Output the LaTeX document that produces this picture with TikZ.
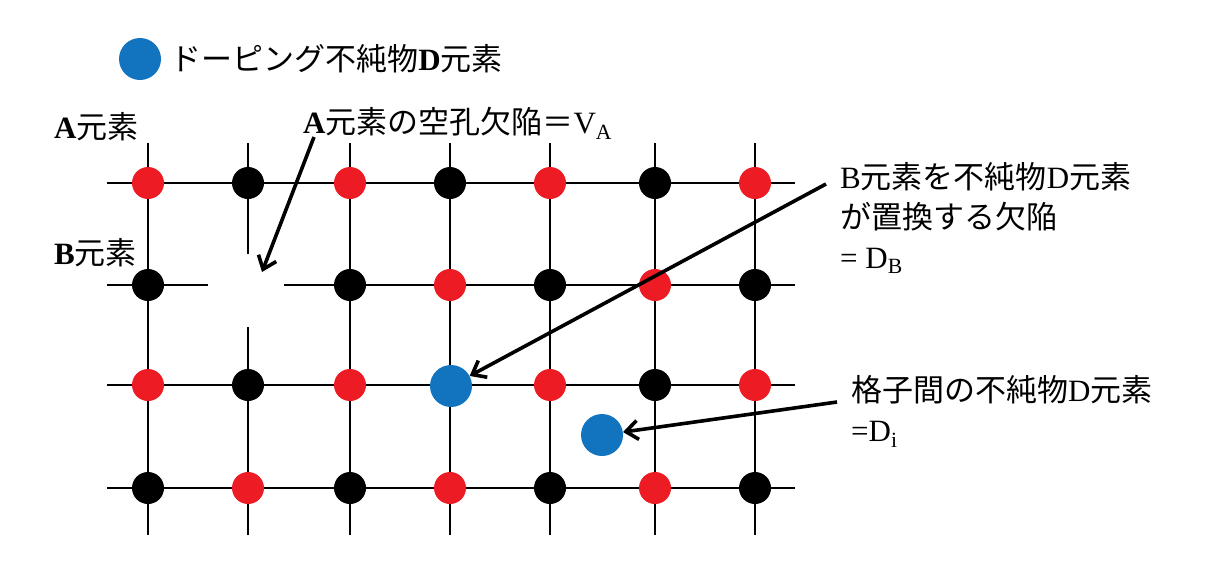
\documentclass[tikz,border=0pt]{standalone}
\usepackage{fontspec}
\setmainfont{Noto Sans CJK JP}
\newfontfamily\lat{Liberation Serif}
\usetikzlibrary{positioning,arrows.meta}
\definecolor{atomred}{RGB}{237,28,36}
\definecolor{dopeblue}{RGB}{18,115,190}
\tikzset{
  atom/.style={circle,inner sep=0pt,minimum size=32pt},
  dopant/.style={circle,inner sep=0pt,minimum size=42pt,fill=dopeblue},
  lattice/.style={line width=1.8pt},
  pointer/.style={line width=3.6pt,-{Straight Barb[length=12pt,width=19pt]}},
  lbl/.style={inner sep=0pt,font=\fontsize{31}{40}\selectfont,align=left}
}
\begin{document}
\begin{tikzpicture}[x=1pt,y=-1pt]
\useasboundingbox (0,0) rectangle (1206,560);

% lattice lines
\foreach \y in {183,385,488}
  \draw[lattice] (107,\y) -- (795,\y);
\draw[lattice] (107,285) -- (208,285);
\draw[lattice] (284,285) -- (795,285);
\foreach \x in {148,350,450,550,655,755}
  \draw[lattice] (\x,143) -- (\x,535);
\draw[lattice] (248,143) -- (248,254);
\draw[lattice] (248,327) -- (248,535);

% atoms
\foreach \r/\y in {1/183,2/285,3/385,4/488}
  \foreach \c/\x in {1/148,2/248,3/350,4/450,5/550,6/655,7/755} {
    \pgfmathtruncatemacro{\k}{mod(\r+\c,2)}
    \ifnum\k=0 \def\atomcol{atomred}\else\def\atomcol{black}\fi
    \ifnum\r\c=22 \else\ifnum\r\c=34 \else
      \node[atom,fill=\atomcol] (a\r\c) at (\x,\y) {};
    \fi\fi
  }

% defects
\coordinate (vac) at (262,272);
\node[dopant] (dsub) at (451,386) {};
\node[dopant] (dint) at (602,435) {};

% legend
\node[dopant] (legend) at (140,59) {};
\node[lbl,right=9pt of legend] (legendtxt) {ドーピング不純物{\lat\bfseries D}元素};

% labels
\node[lbl,anchor=west] (rowA) at (54,127) {{\lat\bfseries A}元素};
\node[lbl,anchor=west] (rowB) at (54,253) {{\lat\bfseries B}元素};
\node[lbl,anchor=west] (lblV) at (303,123) {{\lat\bfseries A}元素の空孔欠陥＝{\lat V\textsubscript{A}}};
\node[lbl,anchor=north west] (lblDB) at (840,162) {{\lat B}元素を不純物{\lat D}元素\\が置換する欠陥\\{\lat = D\textsubscript{B}}};
\node[lbl,anchor=north west] (lblDi) at (851,375) {格子間の不純物{\lat D}元素\\{\lat =D\textsubscript{i}}};

% pointers
\coordinate (vfrom) at (314,137);
\coordinate (dbfrom) at (826,184);
\coordinate (difrom) at (837,402);
\draw[pointer] (vfrom) -- (vac);
\draw[pointer] (dbfrom) -- (dsub);
\draw[pointer] (difrom) -- (dint);
\end{tikzpicture}
\end{document}
